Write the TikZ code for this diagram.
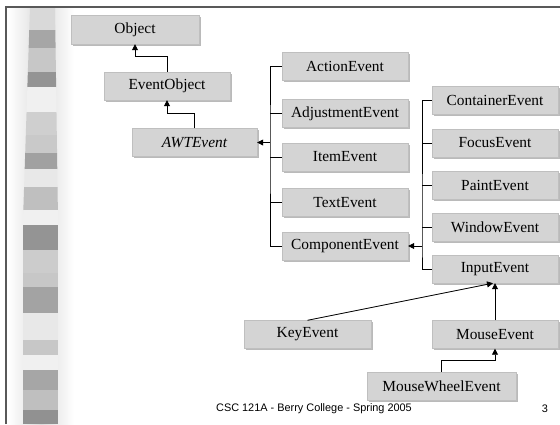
\documentclass[tikz,border=0pt]{standalone}
\usepackage{fontspec}
\setmainfont{Liberation Serif}
\newfontfamily\footfont{Liberation Sans}
\usetikzlibrary{arrows.meta,shadows}

\tikzset{
	cls/.style={shape=rectangle, fill=black!17, draw=black!25, line width=0.4pt,
		minimum width=126pt, minimum height=28pt, inner sep=0pt,
		font=\fontsize{15.4}{18}\selectfont,
		drop shadow={shadow xshift=1.6pt, shadow yshift=-1.6pt, fill=black!45, opacity=0.6}},
	arr/.style={-{Triangle[length=6pt,width=6pt]}, line width=0.8pt},
	bus/.style={-, line width=0.8pt}
}

\begin{document}
\begin{tikzpicture}[x=1pt, y=-1pt]
	\useasboundingbox (0,0) rectangle (560,424);
	\fill[white] (0,0) rectangle (560,424);

	% left stripe
	\shade[left color=white, right color=white, middle color=black!14] (8,8) rectangle (74,424);
	\foreach \a/\b/\g in {7/30/15, 30/48/35, 48/72/22, 72/87/42, 87/112/6, 112/135/19,
		135/153/21, 153/169/37, 169/187/9, 187/210/25, 210/225/6, 225/250/42, 250/273/20,
		273/287/22, 287/313/36, 313/340/9, 340/355/22, 355/370/6, 370/390/35, 390/410/25, 410/424/43}{
		\pgfmathsetmacro\xa{max(23,30-7*(\a-7)/213)}
		\pgfmathsetmacro\xb{max(23,30-7*(\b-7)/213)}
		\pgfmathsetmacro\ya{min(58,55+3*(\a-7)/213)}
		\pgfmathsetmacro\yb{min(58,55+3*(\b-7)/213)}
		\fill[black!\g] (\xa,\a) -- (\ya,\a) -- (\yb,\b) -- (\xb,\b) -- cycle;
	}

	% frame
	\draw[black!65, line width=1.2pt] (6,424) -- (6,7) -- (560,7);

	\node[cls, minimum width=128pt, minimum height=29pt] (Object) at (135,29.5) {Object};
	\node[cls]                  (EventObject)     at (167,86)    {EventObject};
	\node[cls, minimum width=125pt, font=\fontsize{15.4}{18}\selectfont\itshape]
	                            (AWTEvent)        at (194.5,142.5) {AWTEvent};

	\node[cls]                  (ActionEvent)     at (345,66.5)  {ActionEvent};
	\node[cls]                  (AdjustmentEvent) at (345,113.5) {AdjustmentEvent};
	\node[cls]                  (ItemEvent)       at (345,157)   {ItemEvent};
	\node[cls]                  (TextEvent)       at (345,202.5) {TextEvent};
	\node[cls]                  (ComponentEvent)  at (345,246)   {ComponentEvent};

	\node[cls]                  (ContainerEvent)  at (495,100)   {ContainerEvent};
	\node[cls]                  (FocusEvent)      at (495,143)   {FocusEvent};
	\node[cls]                  (PaintEvent)      at (495,185)   {PaintEvent};
	\node[cls]                  (WindowEvent)     at (495,227)   {WindowEvent};
	\node[cls]                  (InputEvent)      at (495,269)   {InputEvent};

	\node[cls, minimum width=127pt] (KeyEvent)    at (307.5,334.5) {KeyEvent};
	\node[cls]                  (MouseEvent)      at (495,334.5) {MouseEvent};
	\node[cls, minimum width=149pt] (MouseWheelEvent) at (441.5,386) {MouseWheelEvent};

	\coordinate (bus1) at (270,142.5);
	\coordinate (bus2) at (422,246);

	\draw[arr] (EventObject.north) |- ++(0,-15) -| (Object.south);
	\draw[arr] (AWTEvent.north) |- ++(0,-14.5) -| (EventObject.south);

	\draw[bus] (ActionEvent.west) -| (bus1) |- (ComponentEvent.west);
	\foreach \n in {AdjustmentEvent, ItemEvent, TextEvent}
		\draw[bus] (\n.west) -- (\n.west -| bus1);
	\draw[arr] (bus1) -- (AWTEvent.east);

	\draw[bus] (ContainerEvent.west) -| (bus2) |- (InputEvent.west);
	\foreach \n in {FocusEvent, PaintEvent, WindowEvent}
		\draw[bus] (\n.west) -- (\n.west -| bus2);
	\draw[arr] (bus2) -- (ComponentEvent.east);

	\draw[arr] (KeyEvent.north) -- ([xshift=-2pt]InputEvent.south);
	\draw[arr] (MouseEvent.north) -- (InputEvent.south);
	\draw[arr] (MouseWheelEvent.north) |- ++(0,-11) -| (MouseEvent.south);

	% footer
	\node[font=\footfont\fontsize{10.9}{13}\selectfont] (footer) at (314,409) {CSC 121A - Berry College - Spring 2005};
	\node[font=\footfont\fontsize{10.9}{13}\selectfont] (pagenum) at (545,409) {3};
\end{tikzpicture}
\end{document}
